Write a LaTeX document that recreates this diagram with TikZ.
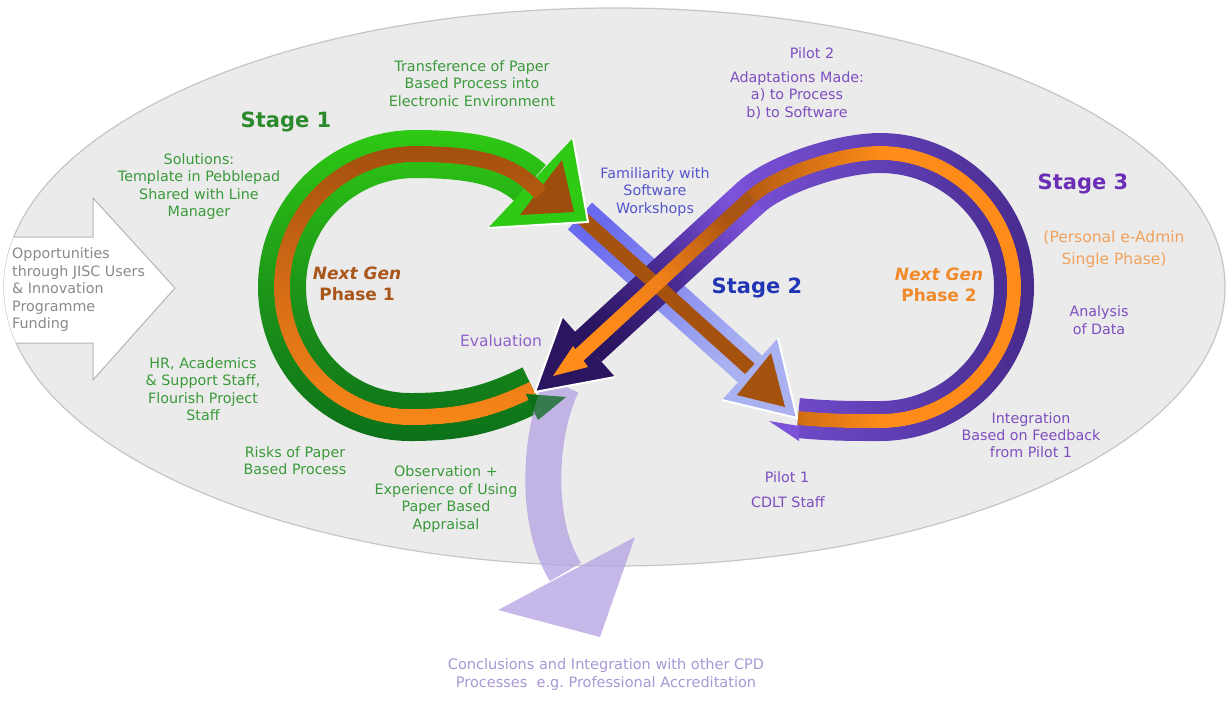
\documentclass[tikz,border=0pt]{standalone}
\usepackage{fontspec}
\setmainfont{DejaVu Sans}
\usetikzlibrary{fadings,calc}

\definecolor{ellfill}{HTML}{EBEBEB}
\definecolor{ellline}{HTML}{C6C6C6}
\definecolor{arrline}{HTML}{B4B4B4}
\definecolor{gbright}{HTML}{2FCB14}
\definecolor{gmid}{HTML}{1E9619}
\definecolor{gdark}{HTML}{0B6E19}
\definecolor{gbrown}{HTML}{9B4B0C}
\definecolor{gmidor}{HTML}{D46C16}
\definecolor{gorange}{HTML}{FF8C19}
\definecolor{headbrown}{HTML}{9E4E0C}
\definecolor{plight}{HTML}{7B52D8}
\definecolor{pmid}{HTML}{5F3FB4}
\definecolor{pdark}{HTML}{45298A}
\definecolor{pdiagmid}{HTML}{4A2C96}
\definecolor{pnavy}{HTML}{2B1560}
\definecolor{pbrown}{HTML}{A95410}
\definecolor{porange}{HTML}{EE7E18}
\definecolor{blueA}{HTML}{6A6AEE}
\definecolor{blueB}{HTML}{A9B1F1}
\definecolor{bbrown}{HTML}{A4520E}
\definecolor{lav}{HTML}{B3A2E2}
\definecolor{tgreen}{HTML}{3A9A3A}
\definecolor{tgreenB}{HTML}{2B8A2B}
\definecolor{tbrown}{HTML}{A8561A}
\definecolor{tpurple}{HTML}{7E4EC0}
\definecolor{tpurpleL}{HTML}{9060CC}
\definecolor{tblue}{HTML}{5555CC}
\definecolor{tblueB}{HTML}{2236B5}
\definecolor{tpurpleB}{HTML}{6A2DB5}
\definecolor{torange}{HTML}{F0A25E}
\definecolor{torangeB}{HTML}{F08A2A}
\definecolor{tlav}{HTML}{A898D4}
\definecolor{tgray}{HTML}{8A8A8A}

\newcommand\greenpath{(533,389) .. controls (490,410) and (460,417) .. (410,417) .. controls (340,417) and (282,360) .. (282,287) .. controls (282,213) and (342,154) .. (415,154) .. controls (465,154) and (505,160) .. (530,183)}
\newcommand\purplepath{(798,418) .. controls (830,421) and (850,421) .. (880,421) .. controls (954,421) and (1014,361) .. (1014,287) .. controls (1014,213) and (954,153) .. (880,153) .. controls (840,153) and (775.8,174.3) .. (750,198)}

\begin{document}
\begin{tikzpicture}[x=1pt,y=-1pt,
  txt/.style={inner sep=0pt, align=center, font=\fontsize{14.3}{17.5}\selectfont},
  bigtxt/.style={inner sep=0pt, font=\fontsize{21}{25}\selectfont\bfseries},
  gentxt/.style={inner sep=0pt, align=center, font=\fontsize{17}{21}\selectfont\bfseries},
  fadeat/.style={fit fading=false, fading transform={shift={(616,356.5)}}},
  headedge/.style={draw=white, line width=2, line join=round}]

\begin{tikzfadingfrompicture}[name=fgO,x=1pt,y=-1pt]
  \useasboundingbox (0,0) rectangle (1232,713);
  \draw[transparent!0,line width=48] \greenpath;
\end{tikzfadingfrompicture}
\begin{tikzfadingfrompicture}[name=fgM,x=1pt,y=-1pt]
  \useasboundingbox (0,0) rectangle (1232,713);
  \draw[transparent!0,line width=16] \greenpath -- (541,193);
\end{tikzfadingfrompicture}
\begin{tikzfadingfrompicture}[name=fpO,x=1pt,y=-1pt]
  \useasboundingbox (0,0) rectangle (1232,713);
  \draw[transparent!0,line width=40] \purplepath;
\end{tikzfadingfrompicture}
\begin{tikzfadingfrompicture}[name=fpM,x=1pt,y=-1pt]
  \useasboundingbox (0,0) rectangle (1232,713);
  \draw[transparent!0,line width=14] \purplepath;
\end{tikzfadingfrompicture}

\useasboundingbox (0,0) rectangle (1232,713);
\fill[white] (0,0) rectangle (1232,713);

% big ellipse
\path[fill=ellfill, draw=ellline, line width=1.2] (614.5,287) ellipse [x radius=610.5, y radius=279];

% white input arrow
\begin{scope}
  \clip (614.5,287) ellipse [x radius=610.5, y radius=279];
  \draw[fill=white, draw=arrline, line width=1] (-5,237) -- (93,237) -- (93,198) -- (175,288) -- (93,380) -- (93,343) -- (-5,343) -- cycle;
\end{scope}

% blue stage 2 band (light part) and its brown stripe
\coordinate (bS) at (580,216);
\coordinate (bE) at (750,369);
\coordinate (bE2) at ($(bE)!-6pt!(bS)$);
\coordinate (bX1) at ($(bS)!0.3!(bE)$);
\coordinate (bX2) at ($(bS)!0.62!(bE)$);
\shade[top color=blueA, bottom color=blueB, shading angle=48]
  ($(bS)!18pt!90:(bE)$) -- ($(bS)!18pt!-90:(bE)$) -- ($(bE)!18pt!90:(bS)$) -- ($(bE)!18pt!-90:(bS)$) -- cycle;
\fill[bbrown] ($(bS)!7pt!90:(bE2)$) -- ($(bS)!7pt!-90:(bE2)$) -- ($(bE2)!7pt!90:(bS)$) -- ($(bE2)!7pt!-90:(bS)$) -- cycle;

% green loop (stage 1)
\shade[path fading=fgO, fadeat, top color=gbright, bottom color=gdark, middle color=gmid] (250,125) rectangle (600,450);
\fill[gbright] (573,138) -- (588,222) -- (488,228) -- cycle;
\draw[headedge] (573,138) -- (588,222) -- (488,228);
\fill[headbrown] (562,160) -- (574,212) -- (520,215) -- cycle;
\shade[path fading=fgM, fadeat, top color=gbrown, bottom color=gorange, middle color=gmidor] (250,125) rectangle (600,450);

% purple loop (stage 3)
\shade[path fading=fpO, fadeat, left color=plight, right color=pdark, middle color=pmid] (725,125) rectangle (1045,455);
\shade[path fading=fpM, fadeat, left color=pbrown, right color=gorange, middle color=gorange] (725,125) rectangle (1045,455);
\fill[plight] (799,426) -- (769,421) -- (799,441) -- cycle;

% blue head
\fill[blueB] (778,338) -- (797,418) -- (722,400) -- cycle;
\draw[headedge] (778,338) -- (797,418) -- (722,400);
\fill[bbrown] (771,353) -- (785,407) -- (737,395) -- cycle;

% purple diagonal band
\coordinate (pA) at (588,347);
\coordinate (pD) at (750,198);
\coordinate (pD1) at ($(pD)!-1.5pt!(pA)$);
\coordinate (pA2) at ($(pA)!-13pt!(pD)$);
\shade[top color=plight, bottom color=pnavy, middle color=pdiagmid, shading angle=-47.4]
  ($(pA)!20pt!90:(pD1)$) -- ($(pA)!20pt!-90:(pD1)$) -- ($(pD1)!20pt!90:(pA)$) -- ($(pD1)!20pt!-90:(pA)$) -- cycle;

% brown stripe of blue band, woven over the purple band
\fill[bbrown] ($(bX1)!7pt!90:(bX2)$) -- ($(bX1)!7pt!-90:(bX2)$) -- ($(bX2)!7pt!90:(bX1)$) -- ($(bX2)!7pt!-90:(bX1)$) -- cycle;

% lavender conclusion arrow
\fill[gdark] (526,394) -- (566,397) -- (538,420) -- cycle;
\draw[lav, opacity=0.75, line width=36] (562,385) .. controls (540,430) and (533,520) .. (565.5,572);
\fill[lav, opacity=0.75] (498,610) -- (635,537) -- (600,637) -- cycle;
\fill[gdark, opacity=0.65] (526,394) -- (566,397) -- (538,420) -- cycle;

% purple head
\fill[pnavy] (562,317) -- (535,392) -- (615,377) -- cycle;
\draw[headedge] (562,317) -- (535,392) -- (615,377);
\fill[gorange] (573,346) -- (553,376) -- (588,367) -- cycle;
\shade[top color=pbrown, bottom color=gorange, middle color=porange, shading angle=-47.4]
  ($(pA2)!7pt!90:(pD1)$) -- ($(pA2)!7pt!-90:(pD1)$) -- ($(pD1)!7pt!90:(pA2)$) -- ($(pD1)!7pt!-90:(pA2)$) -- cycle;

% texts
\node[txt, align=left, anchor=west, text=tgray] (opp) at (12,290) {Opportunities\\through JISC Users\\\& Innovation\\Programme\\Funding};
\node[bigtxt, text=tgreenB] (st1) at (286,122) {Stage 1};
\node[txt, text=tgreen] (trans) at (472,83.5) {Transference of Paper\\Based Process into\\Electronic Environment};
\node[txt, text=tgreen] (sol) at (199,186.5) {Solutions:\\Template in Pebblepad\\Shared with Line\\Manager};
\node[txt, text=tgreen] (hr) at (203,389) {HR, Academics\\\& Support Staff,\\Flourish Project\\Staff};
\node[txt, text=tgreen] (risk) at (295,460.5) {Risks of Paper\\Based Process};
\node[txt, text=tgreen] (obs) at (446,499) {Observation +\\Experience of Using\\Paper Based\\Appraisal};
\node[gentxt, text=tbrown] (ng1) at (357,283.5) {\itshape Next Gen\\Phase 1};
\node[inner sep=0pt, font=\fontsize{15.5}{18}\selectfont, text=tpurpleL] (eval) at (501,341) {Evaluation};
\node[txt, text=tblue] (fam) at (655,192) {Familiarity with\\Software\\Workshops};
\node[txt, text=tpurple] (pil2) at (812,53) {Pilot 2};
\node[txt, text=tpurple] (adapt) at (797,95.5) {Adaptations Made:\\a) to Process\\b) to Software};
\node[bigtxt, text=tblueB] (st2) at (757,288) {Stage 2};
\node[bigtxt, text=tpurpleB] (st3) at (1083,184) {Stage 3};
\node[inner sep=0pt, align=center, font=\fontsize{15.5}{22}\selectfont, text=torange] (pers) at (1114,249) {(Personal e-Admin\\Single Phase)};
\node[gentxt, text=torangeB] (ng2) at (939,284.5) {\itshape Next Gen\\Phase 2};
\node[inner sep=0pt, align=center, font=\fontsize{14.3}{18}\selectfont, text=tpurple] (anal) at (1099,320) {Analysis\\of Data};
\node[inner sep=0pt, align=center, font=\fontsize{14.3}{17}\selectfont, text=tpurple] (integ) at (1031,435) {Integration\\Based on Feedback\\from Pilot 1};
\node[txt, text=tpurple] (pil1) at (787,477) {Pilot 1};
\node[txt, text=tpurple] (cdlt) at (788,502) {CDLT Staff};
\node[inner sep=0pt, align=center, font=\fontsize{14.5}{18}\selectfont, text=tlav] (concl) at (606,674) {Conclusions and Integration with other CPD\\Processes~ e.g.\ Professional Accreditation};
\end{tikzpicture}
\end{document}
